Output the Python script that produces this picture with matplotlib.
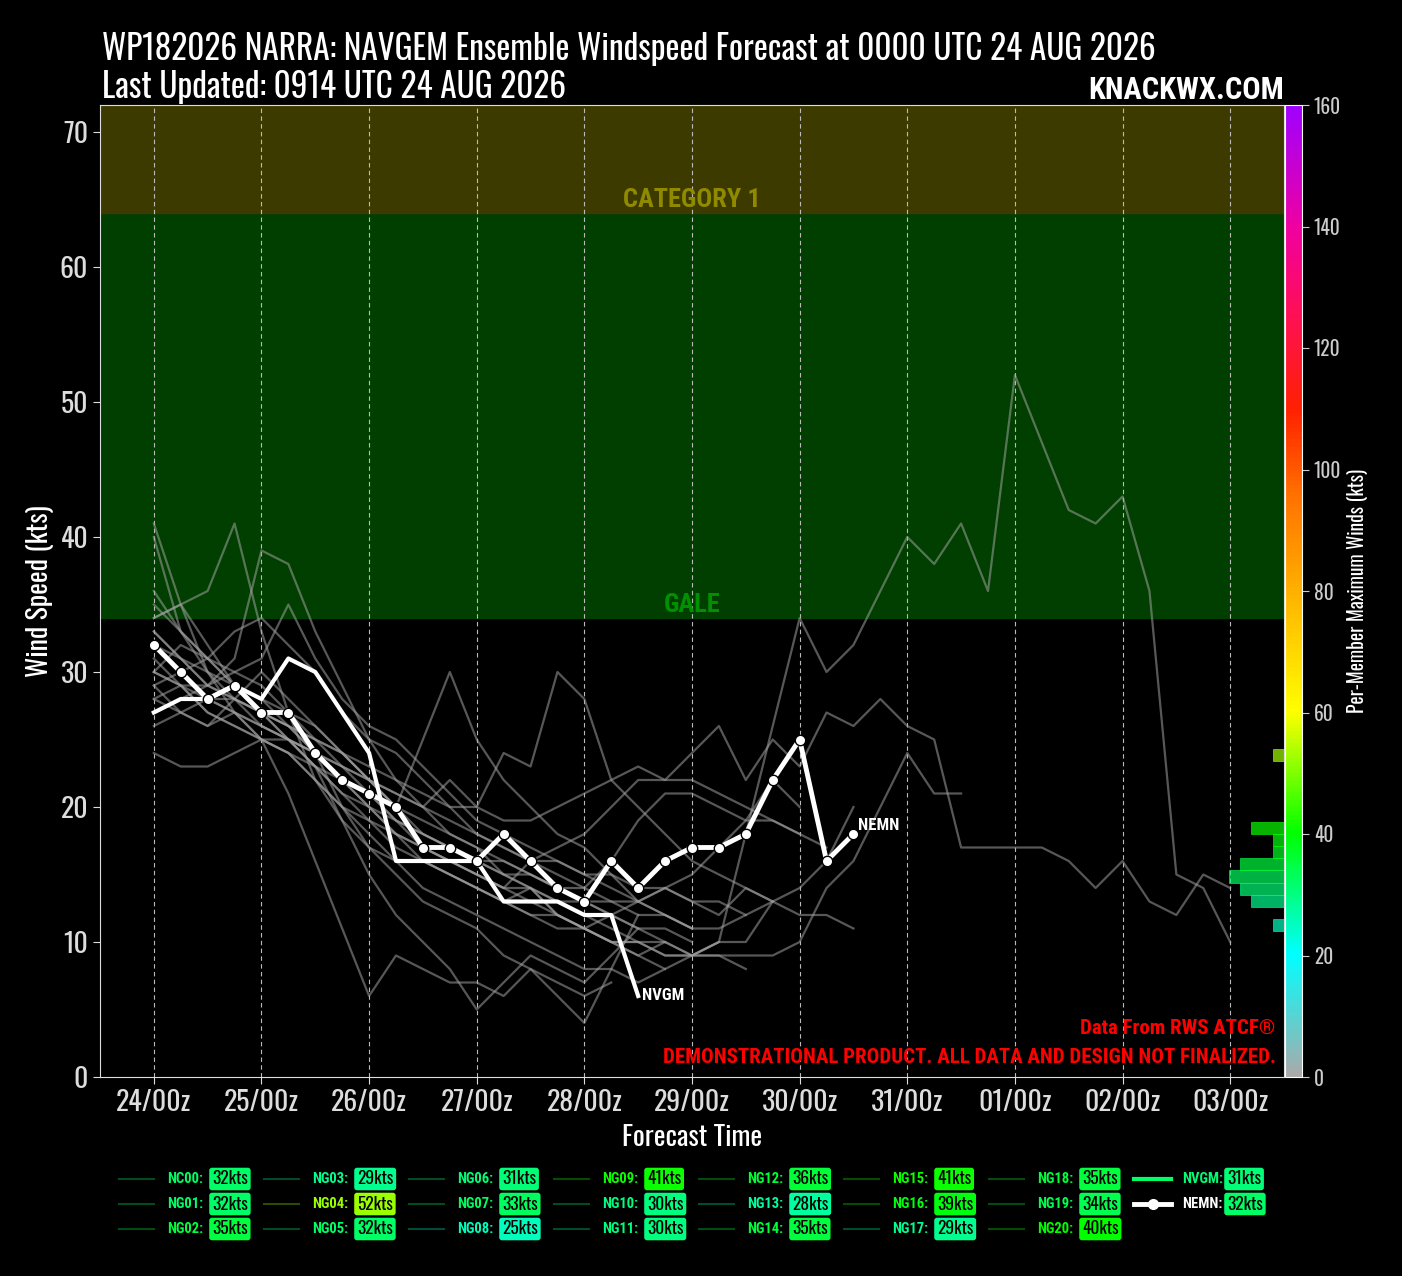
import numpy as np
import matplotlib
matplotlib.use("Agg")
import matplotlib.pyplot as plt
from matplotlib.colors import LinearSegmentedColormap, Normalize
from matplotlib.lines import Line2D
from matplotlib import font_manager
import matplotlib.cm as cm

FONT = ['Oswald', 'DejaVu Sans']
plt.rcParams['font.family'] = FONT


def heavy(w):
    if isinstance(w, str):
        return w.lower() in ("bold", "semibold", "demibold", "heavy", "extra bold", "black")
    return w >= 600


# pick a condensed face that really has a bold cut
bold_names = {f.name for f in font_manager.fontManager.ttflist if heavy(f.weight)}
candidates = ['Oswald', 'Oswald SemiBold', 'Fjalla One', 'Roboto Condensed', 'Barlow Condensed',
              'PT Sans Narrow', 'Archivo Narrow', 'Sofia Sans Condensed', 'Fira Sans Condensed',
              'Saira Condensed', 'Encode Sans Condensed', 'Liberation Sans Narrow', 'Anton']
BOLD_FAMILY = next((c for c in candidates if c in bold_names), 'Oswald')
BOLD = dict(family=[BOLD_FAMILY, 'Oswald', 'DejaVu Sans'], fontweight='bold')

# 6-hourly wind speeds (kts) starting 0000 UTC 24 AUG
members = {
    "NC00": [32, 31, 30, 29, 28, 27, 25, 23, 21, 19, 17, 16, 15, 14, 14, 13, 13, 12, 11, 11, 10],
    "NG01": [30, 32, 31, 29, 28, 26, 24, 23, 22, 21, 20, 19, 18, 17, 16, 16, 15, 15, 14, 14, 13, 13, 12],
    "NG02": [35, 33, 31, 29, 27, 25, 24, 20, 17, 15, 13, 12, 11, 9, 8, 6, 4, 8, 12],
    "NG03": [29, 27, 26, 27, 25, 24, 22, 20, 19, 18, 17, 16, 15, 14, 16, 17, 18, 20, 22, 22, 22, 21, 20, 19, 18],
    "NG04": [30, 29, 27, 26, 25, 25, 23, 21, 19, 17, 16, 15, 14, 13, 12, 11, 11, 10, 10, 9, 9, 10, 18, 26,
             34, 30, 32, 36, 40, 38, 41, 36, 52, 47, 42, 41, 43, 36, 15, 14, 10],
    "NG05": [32, 30, 28, 28, 27, 26, 25, 24, 22, 21, 20, 22, 20, 24, 23, 30, 28, 22, 20, 18, 16, 15, 14, 13, 12, 12, 11],
    "NG06": [31, 29, 28, 27, 26, 25, 24, 23, 22, 20, 19, 18, 17, 16, 15, 14, 13, 12, 11, 10],
    "NG07": [33, 31, 29, 28, 27, 26, 25, 24, 23, 22, 21, 20, 20, 19, 19, 20, 21, 22, 23, 22, 24, 26, 22, 25,
             23, 27, 26, 28, 26, 25, 17, 17, 17, 17, 16, 14, 16, 13, 12, 15, 14],
    "NG08": [24, 23, 23, 24, 25, 24, 22, 20, 18, 16, 14, 13, 12, 11, 10, 9, 8, 8, 7, 8, 9, 10],
    "NG09": [41, 35, 30, 27, 25, 21, 16, 11, 6, 9, 8, 7, 7, 6, 8, 7, 6, 7],
    "NG10": [28, 27, 26, 28, 30, 28, 26, 24, 22, 20, 18, 17, 16, 15, 14, 12, 11, 10, 10, 9, 9, 9, 9, 9,
             10, 14, 16, 20, 24, 21, 21],
    "NG11": [30, 29, 27, 26, 25, 24, 23, 22, 21, 19, 18, 17, 16, 16, 15, 14, 13, 13, 12, 12, 11, 11, 12, 13],
    "NG12": [36, 33, 31, 30, 29, 27, 26, 24, 22, 20, 25, 30, 25, 22, 20, 18, 17, 15, 13, 12, 11],
    "NG13": [26, 27, 28, 27, 26, 25, 24, 22, 20, 18, 16, 15, 14, 13, 12, 12, 11, 12, 13, 14, 13, 12, 14, 13, 14, 16, 20],
    "NG14": [34, 35, 32, 29, 27, 25, 23, 19, 15, 12, 10, 8, 5, 7, 9, 8, 7, 9, 11],
    "NG15": [34, 35, 36, 41, 33, 27, 22, 19, 17, 16, 16, 15, 14, 13, 14, 12, 11, 10, 9, 10, 9, 9, 8],
    "NG16": [28, 29, 29, 31, 39, 38, 33, 29, 25, 22, 20, 18, 17, 15, 14, 13, 12, 11, 10, 10, 9, 10, 10, 13],
    "NG17": [27, 28, 29, 28, 26, 25, 23, 21, 20, 19, 18, 17, 16, 15, 15, 14, 14, 13, 13, 14, 15, 17, 19, 22, 20],
    "NG18": [33, 31, 29, 30, 31, 35, 31, 28, 26, 25, 23, 21, 19, 18, 17, 16, 15, 14, 13, 12, 11],
    "NG19": [29, 30, 31, 33, 34, 32, 30, 27, 25, 24, 22, 20, 18, 17, 16, 15, 14, 16, 19, 21, 21, 20, 19, 19, 18, 17],
    "NG20": [40, 33, 30, 28, 27, 26, 24, 22, 20, 18, 17, 16, 15, 14, 13, 12, 11, 10, 9, 8],
}
nvgm = [27, 28, 28, 29, 28, 31, 30, 27, 24, 16, 16, 16, 16, 13, 13, 13, 12, 12, 6]
nemn = [32, 30, 28, 29, 27, 27, 24, 22, 21, 20, 17, 17, 16, 18, 16, 14, 13, 16, 14, 16, 17, 17, 18, 22, 25, 16, 18]

day_labels = ["24/00z", "25/00z", "26/00z", "27/00z", "28/00z", "29/00z",
              "30/00z", "31/00z", "01/00z", "02/00z", "03/00z"]

cmap = LinearSegmentedColormap.from_list("winds", [
    (0.0, "#aaaaaa"), (0.125, "#00ffff"), (0.25, "#00ff00"), (0.375, "#ffff00"),
    (0.5, "#ffb000"), (0.6, "#ff7000"), (0.6875, "#ff2000"), (0.78, "#ff1050"),
    (0.875, "#f000a0"), (1.0, "#a000ff")])
norm = Normalize(0, 160)

def hours(vals):
    return np.arange(len(vals)) / 4.0

fig = plt.figure(figsize=(14.02, 12.76), dpi=100, facecolor="black")
W, H = 1402, 1276
ax = fig.add_axes([100 / W, 1 - 1077 / H, 1184 / W, 972 / H], facecolor="black")

ax.axhspan(34, 64, color="#003f00", zorder=0)
ax.axhspan(64, 72, color="#3d3a00", zorder=0)
ax.text(5.0, 34.1, "GALE", color="#009000", fontsize=19, ha="center", va="bottom", **BOLD)
ax.text(5.0, 64.1, "CATEGORY 1", color="#908a00", fontsize=19, ha="center", va="bottom", **BOLD)

for name, vals in members.items():
    ax.plot(hours(vals), vals, color="#a0a0a0", alpha=0.55, lw=1.6, zorder=2)

ax.plot(hours(nvgm), nvgm, color="white", lw=3, zorder=4)
ax.plot(hours(nemn), nemn, color="white", lw=3.5, marker="o", ms=7.5,
        mec="black", mew=1, mfc="white", zorder=5)
ax.text(hours(nvgm)[-1] + 0.04, nvgm[-1], "NVGM", color="white", fontsize=12,
        va="center", ha="left", **BOLD)
ax.text(hours(nemn)[-1] + 0.04, nemn[-1] + 0.1, "NEMN", color="white", fontsize=12,
        va="bottom", ha="left", **BOLD)

ax.set_xlim(-0.5, 10.5)
ax.set_ylim(0, 72)
ax.set_xticks(range(len(day_labels)))
ax.set_xticklabels(day_labels)
ax.set_yticks(range(0, 71, 10))
ax.grid(axis="x", color="#bbbbbb", ls=(0, (4, 3)), lw=0.8)
ax.tick_params(colors="#dddddd", labelsize=20, length=5)
for s in ax.spines.values():
    s.set_color("#dddddd")
ax.set_ylabel("Wind Speed (kts)", color="white", fontsize=20)
ax.set_xlabel("Forecast Time", color="white", fontsize=20, labelpad=6)

ax.text(0.993, 0.04, "Data From RWS ATCF\u00ae", transform=ax.transAxes, color="red",
        fontsize=15, ha="right", va="bottom", **BOLD)
ax.text(0.993, 0.01, "DEMONSTRATIONAL PRODUCT. ALL DATA AND DESIGN NOT FINALIZED.",
        transform=ax.transAxes, color="red", fontsize=15, ha="right", va="bottom", **BOLD)

# per-member max wind histogram along the right edge (colorbar scale)
names = list(members.keys()) + ["NVGM", "NEMN"]
maxes = [max(v) for v in members.values()] + [max(nvgm), max(nemn)]
bins = np.arange(0, 162, 2)
counts, edges = np.histogram(maxes, bins=bins)
centers = (edges[:-1] + edges[1:]) / 2
axh = fig.add_axes(ax.get_position().bounds, frameon=False)
axh.set_xlim(1184 / 11, 0)
axh.set_ylim(0, 160)
axh.axis("off")
keep = counts > 0
axh.barh(centers[keep], counts[keep], height=2,
         color=cmap(norm(centers[keep])), alpha=0.7, edgecolor=cmap(norm(centers[keep])), lw=0.6)

# colorbar
cax = fig.add_axes([1285 / W, 1 - 1077 / H, 17 / W, 972 / H])
cb = fig.colorbar(cm.ScalarMappable(norm=norm, cmap=cmap), cax=cax)
cb.set_ticks(range(0, 161, 20))
cb.outline.set_edgecolor("white")
cax.tick_params(colors="#cccccc", labelsize=14, length=5)
cb.set_label("Per-Member Maximum Winds (kts)", color="white", fontsize=14)

fig.text(102 / W, 1 - 60 / H, "WP182026 NARRA: NAVGEM Ensemble Windspeed Forecast at 0000 UTC 24 AUG 2026",
         color="white", fontsize=24, ha="left", va="baseline")
fig.text(102 / W, 1 - 98 / H, "Last Updated: 0914 UTC 24 AUG 2026",
         color="white", fontsize=24, ha="left", va="baseline")
fig.text(1284 / W, 1 - 99 / H, "KNACKWX.COM", color="white", fontsize=22,
         ha="right", va="baseline", **BOLD)

# legend
rows_y = [1179, 1204, 1229]
for i, (name, mx) in enumerate(zip(names, maxes)):
    c, r = divmod(i, 3)
    x0 = 119 + c * 145
    y = 1 - rows_y[r] / H
    col = cmap(norm(mx))
    if name == "NVGM":
        ln = Line2D([x0 / W, (x0 + 37) / W], [y, y], color="#00ff66", lw=3, transform=fig.transFigure)
        tcol = col
    elif name == "NEMN":
        ln = Line2D([x0 / W, (x0 + 18.5) / W, (x0 + 37) / W], [y, y, y], color="white", lw=3.5,
                    marker="o", ms=7, markevery=[1], transform=fig.transFigure)
        tcol = "white"
    else:
        ln = Line2D([x0 / W, (x0 + 35) / W], [y, y], color=col, alpha=0.3, lw=1.5, transform=fig.transFigure)
        tcol = col
    fig.add_artist(ln)
    fig.text((x0 + 48) / W, y, name + ":", color=tcol, fontsize=10.5, ha="left", va="center", **BOLD)
    fig.text((x0 + 93) / W, y, "%dkts" % mx, color="black", fontsize=12.5, ha="left", va="center",
             bbox=dict(boxstyle="round,pad=0.16", fc=col, ec="none"))

fig.savefig("out.png", dpi=100, facecolor="black")
